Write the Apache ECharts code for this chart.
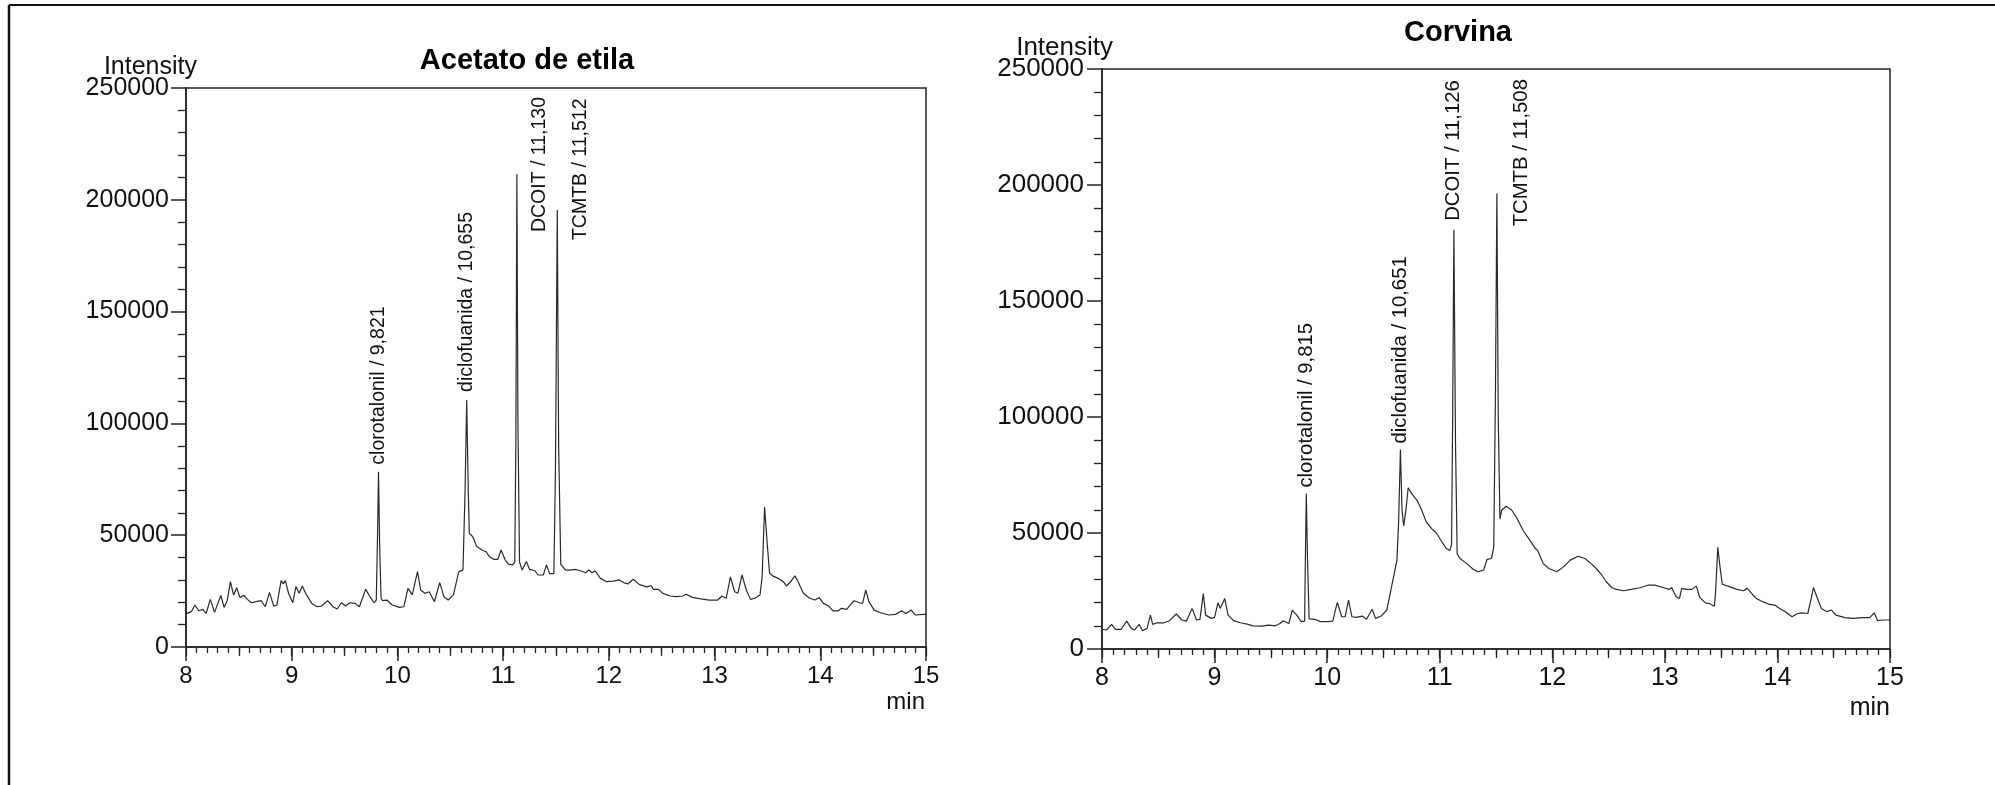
<!DOCTYPE html>
<html>
<head>
<meta charset="utf-8">
<script src="https://cdn.jsdelivr.net/npm/echarts@6/dist/echarts.min.js"></script>
<style>
html,body{margin:0;padding:0;background:#fff;}
#chart{width:1995px;height:785px;}
</style>
</head>
<body>
<div id="chart"></div>
<script>
// ---------- DATA ----------
const xTicks = [8, 9, 10, 11, 12, 13, 14, 15];
const yTicks = [0, 50000, 100000, 150000, 200000, 250000];

const titleA = 'Acetato de etila';
const titleB = 'Corvina';

const acetatoTime = [8.00,8.05,8.085,8.12,8.16,8.19,8.23,8.27,8.33,8.36,8.39,8.42,8.45,8.48,8.51,8.55,8.58,8.62,8.66,8.71,8.75,8.79,8.83,8.86,8.90,8.92,8.94,8.97,9.01,9.04,9.07,9.10,9.14,9.19,9.24,9.28,9.34,9.39,9.43,9.47,9.51,9.55,9.60,9.64,9.70,9.74,9.78,9.80,9.812,9.821,9.832,9.845,9.86,9.90,9.95,10.02,10.06,10.10,10.14,10.19,10.22,10.26,10.30,10.35,10.40,10.44,10.48,10.53,10.58,10.62,10.64,10.655,10.67,10.68,10.70,10.72,10.75,10.80,10.84,10.87,10.91,10.95,10.98,11.02,11.05,11.09,11.11,11.12,11.13,11.14,11.155,11.18,11.22,11.25,11.30,11.33,11.38,11.41,11.44,11.48,11.495,11.512,11.525,11.545,11.59,11.63,11.68,11.73,11.78,11.81,11.84,11.87,11.92,11.98,12.04,12.10,12.14,12.18,12.23,12.29,12.36,12.40,12.42,12.47,12.51,12.58,12.64,12.70,12.73,12.79,12.87,12.95,13.03,13.07,13.11,13.15,13.19,13.22,13.26,13.30,13.34,13.38,13.43,13.45,13.473,13.50,13.52,13.55,13.60,13.65,13.68,13.72,13.76,13.79,13.84,13.90,13.95,13.99,14.03,14.08,14.12,14.17,14.20,14.25,14.29,14.32,14.37,14.40,14.43,14.46,14.51,14.57,14.65,14.71,14.77,14.81,14.86,14.90,14.98,15.00];
const acetatoIntensity = [14800,15800,18800,16200,16800,15000,21300,15500,23100,17700,20700,29200,23300,26500,22200,23100,21300,19800,20300,20700,18000,24400,18300,18800,29700,28200,29700,24000,19800,27000,24000,27300,23300,19500,18000,18300,20700,18000,17000,19800,18300,19800,19500,18000,25900,22500,19800,21000,50000,78400,45000,22000,20700,21000,18800,17700,18000,26200,23300,33700,25500,24000,24700,20300,28800,22500,21000,23300,33700,34400,70000,110500,70000,50800,50000,48600,44900,43400,42600,40400,39200,39200,43400,38900,37100,36700,38000,90000,211500,100000,38000,34400,38200,34700,34100,32200,32200,36700,32800,32800,80000,195400,90000,37000,34400,34400,34700,34100,33200,34400,33200,34100,30700,29200,29500,30000,28800,28200,30300,27900,26900,27500,25800,25800,24000,22800,22500,22800,23600,22200,21500,21000,21000,22800,21800,31400,24700,24000,32200,25500,21300,21800,23300,31400,62600,45000,33100,31800,30700,29200,27300,29200,31800,29200,24000,21800,21000,22100,19500,18300,16200,16200,17300,16800,19200,20700,19800,19500,25500,20300,16500,15300,14300,14600,16200,15000,16500,14300,14600,14600];

const corvinaTime = [8.00,8.04,8.085,8.12,8.17,8.22,8.26,8.29,8.33,8.36,8.40,8.43,8.45,8.49,8.55,8.60,8.66,8.71,8.75,8.80,8.84,8.87,8.90,8.92,8.97,9.00,9.03,9.05,9.09,9.12,9.17,9.23,9.29,9.34,9.42,9.48,9.54,9.58,9.61,9.66,9.69,9.73,9.77,9.80,9.807,9.815,9.825,9.84,9.85,9.89,9.94,10.00,10.05,10.09,10.13,10.16,10.19,10.22,10.26,10.31,10.35,10.40,10.43,10.48,10.53,10.56,10.59,10.62,10.635,10.651,10.665,10.68,10.70,10.72,10.75,10.80,10.84,10.88,10.93,10.97,11.02,11.06,11.09,11.105,11.115,11.126,11.14,11.155,11.18,11.24,11.30,11.34,11.39,11.42,11.46,11.48,11.495,11.508,11.52,11.535,11.55,11.59,11.64,11.68,11.74,11.80,11.85,11.87,11.92,11.97,12.04,12.10,12.16,12.23,12.29,12.35,12.39,12.44,12.48,12.53,12.57,12.63,12.70,12.78,12.85,12.91,12.99,13.04,13.06,13.10,13.13,13.15,13.19,13.24,13.28,13.31,13.36,13.40,13.44,13.45,13.47,13.49,13.51,13.58,13.64,13.70,13.73,13.77,13.81,13.87,13.93,13.98,14.02,14.07,14.13,14.17,14.21,14.27,14.30,14.32,14.35,14.39,14.44,14.48,14.52,14.60,14.67,14.76,14.82,14.86,14.89,14.94,15.00];
const corvinaIntensity = [8500,8200,10600,8500,8500,12000,8900,8200,10600,7900,8900,14600,10600,11300,11300,12200,15100,12500,12000,17500,12500,12800,23900,14600,13200,13600,19900,17500,21800,14600,12200,11300,10700,10000,9900,10300,10000,11000,12200,11000,16800,14600,11800,12000,40000,67000,40000,13000,12800,12800,11800,11800,12000,20100,13900,13900,21100,13900,13600,14200,12800,17100,13200,14200,16800,23900,31100,38300,55000,86000,60000,53000,60000,69500,67100,64000,59800,54800,51800,50000,46100,43200,42500,45000,100000,180700,90000,41000,39000,36800,34300,33300,34000,38600,39000,44000,110000,196400,100000,56000,59800,61500,59800,56900,51200,46900,43300,42500,36800,34700,33300,35400,38300,40000,39000,36600,34700,31800,29000,26400,25700,25100,25700,26400,27500,27500,26400,25700,26500,22500,21800,26100,25700,25700,27100,22200,19900,19500,18400,24000,43800,35400,27900,26800,25700,25100,26200,24000,21800,20400,19200,18900,17500,16100,13900,15100,15600,15300,21800,26500,22500,17500,16100,16800,14600,13500,13200,13500,13500,15600,12200,12500,12500];

const peakNamesA = ['clorotalonil / 9,821', 'diclofuanida / 10,655', 'DCOIT / 11,130', 'TCMTB / 11,512'];
const peakTimesA = [9.821, 10.655, 11.130, 11.512];
const peakHeightsA = [78400, 110500, 211500, 195400];

const peakNamesB = ['clorotalonil / 9,815', 'diclofuanida / 10,651', 'DCOIT / 11,126', 'TCMTB / 11,508'];
const peakTimesB = [9.815, 10.651, 11.126, 11.508];
const peakHeightsB = [67000, 86000, 180700, 196400];

// ---------- STYLE ----------
const FONT = '"Liberation Sans", Arial, Helvetica, sans-serif';
const INK = '#111';
// screen shifts [dx, dy] of each label's start from its peak top
const labelShiftA = [[0, -7], [0, -8], [23, 58], [23, 30]];
const labelShiftB = [[0, -6], [0, -6], [0, -9], [25, 33]];

function pairs(t, v) { return t.map((x, i) => [x, v[i]]); }

function makeXAxes(gridIndex, labelSize) {
  return [{
    type: 'value', gridIndex, min: xTicks[0], max: xTicks[xTicks.length - 1], interval: 1,
    position: 'bottom',
    axisLine: { show: true, lineStyle: { color: '#222', width: 1.5 } },
    axisTick: { show: true, length: 14, lineStyle: { color: '#222', width: 1.5 } },
    minorTick: { show: true, splitNumber: 10, length: 6, lineStyle: { color: '#222', width: 1.3 } },
    splitLine: { show: false },
    axisLabel: { show: true, fontSize: labelSize, margin: 17, color: INK, fontFamily: FONT,
      formatter: v => String(v) }
  }, {
    type: 'value', gridIndex, min: xTicks[0], max: xTicks[xTicks.length - 1], interval: 0.5,
    position: 'bottom',
    axisLine: { show: false },
    axisTick: { show: true, length: 9, lineStyle: { color: '#222', width: 1.3 } },
    splitLine: { show: false },
    axisLabel: { show: false }
  }];
}

function makeYAxis(gridIndex, labelSize, margin) {
  return {
    type: 'value', gridIndex, min: yTicks[0], max: yTicks[yTicks.length - 1], interval: 50000,
    axisLine: { show: true, lineStyle: { color: '#222', width: 1.5 } },
    axisTick: { show: true, length: 15, lineStyle: { color: '#222', width: 1.5 } },
    minorTick: { show: true, splitNumber: 5, length: 8, lineStyle: { color: '#222', width: 1.3 } },
    splitLine: { show: false },
    axisLabel: { show: true, fontSize: labelSize, margin, color: INK, fontFamily: FONT,
      formatter: v => String(v) }
  };
}

function makeSeries(t, v, names, times, heights, shifts, xi, yi, lblSize) {
  return {
    type: 'line', xAxisIndex: xi, yAxisIndex: yi,
    data: pairs(t, v), showSymbol: false, symbol: 'none', smooth: false,
    lineStyle: { color: '#2a2a2a', width: 1.2 },
    silent: true, animation: false,
    markPoint: {
      symbol: 'circle', symbolSize: 0, animation: false,
      data: names.map((n, i) => ({
        name: n, coord: [times[i], heights[i]],
        label: {
          show: true, formatter: n, rotate: 90, position: [0, 0],
          align: 'left', verticalAlign: 'middle',
          // offset is applied in the rotated frame
          offset: [-shifts[i][1], shifts[i][0]],
          fontSize: lblSize, color: INK, fontFamily: FONT
        }
      }))
    }
  };
}

const chart = echarts.init(document.getElementById('chart'), null, { renderer: 'canvas' });

const option = {
  backgroundColor: '#fff',
  animation: false,
  grid: [
    { left: 186, top: 88, width: 740, height: 559, show: true, borderColor: '#222', borderWidth: 1.5, backgroundColor: 'transparent' },
    { left: 1102, top: 69, width: 788, height: 580, show: true, borderColor: '#222', borderWidth: 1.5, backgroundColor: 'transparent' }
  ],
  xAxis: [...makeXAxes(0, 24), ...makeXAxes(1, 25)],
  yAxis: [makeYAxis(0, 25, 17), makeYAxis(1, 26, 18)],
  series: [
    makeSeries(acetatoTime, acetatoIntensity, peakNamesA, peakTimesA, peakHeightsA, labelShiftA, 0, 0, 19.5),
    makeSeries(corvinaTime, corvinaIntensity, peakNamesB, peakTimesB, peakHeightsB, labelShiftB, 2, 1, 20.3)
  ],
  graphic: [
    { type: 'line', shape: { x1: 9, y1: 5, x2: 1995, y2: 5 }, style: { stroke: '#111', lineWidth: 2 } },
    { type: 'line', shape: { x1: 9, y1: 5, x2: 9, y2: 785 }, style: { stroke: '#111', lineWidth: 2.5 } },
    { type: 'text', x: 527, y: 61, style: { text: titleA, font: 'bold 29px ' + FONT, fill: '#000', textAlign: 'center', textVerticalAlign: 'middle' } },
    { type: 'text', x: 1458, y: 33, style: { text: titleB, font: 'bold 29px ' + FONT, fill: '#000', textAlign: 'center', textVerticalAlign: 'middle' } },
    { type: 'text', x: 197, y: 67, style: { text: 'Intensity', font: '25px ' + FONT, fill: INK, textAlign: 'right', textVerticalAlign: 'middle' } },
    { type: 'text', x: 1113, y: 48, style: { text: 'Intensity', font: '26px ' + FONT, fill: INK, textAlign: 'right', textVerticalAlign: 'middle' } },
    { type: 'text', x: 925, y: 702, style: { text: 'min', font: '24px ' + FONT, fill: INK, textAlign: 'right', textVerticalAlign: 'middle' } },
    { type: 'text', x: 1890, y: 708, style: { text: 'min', font: '25px ' + FONT, fill: INK, textAlign: 'right', textVerticalAlign: 'middle' } }
  ]
};
chart.setOption(option);
</script>
</body>
</html>
